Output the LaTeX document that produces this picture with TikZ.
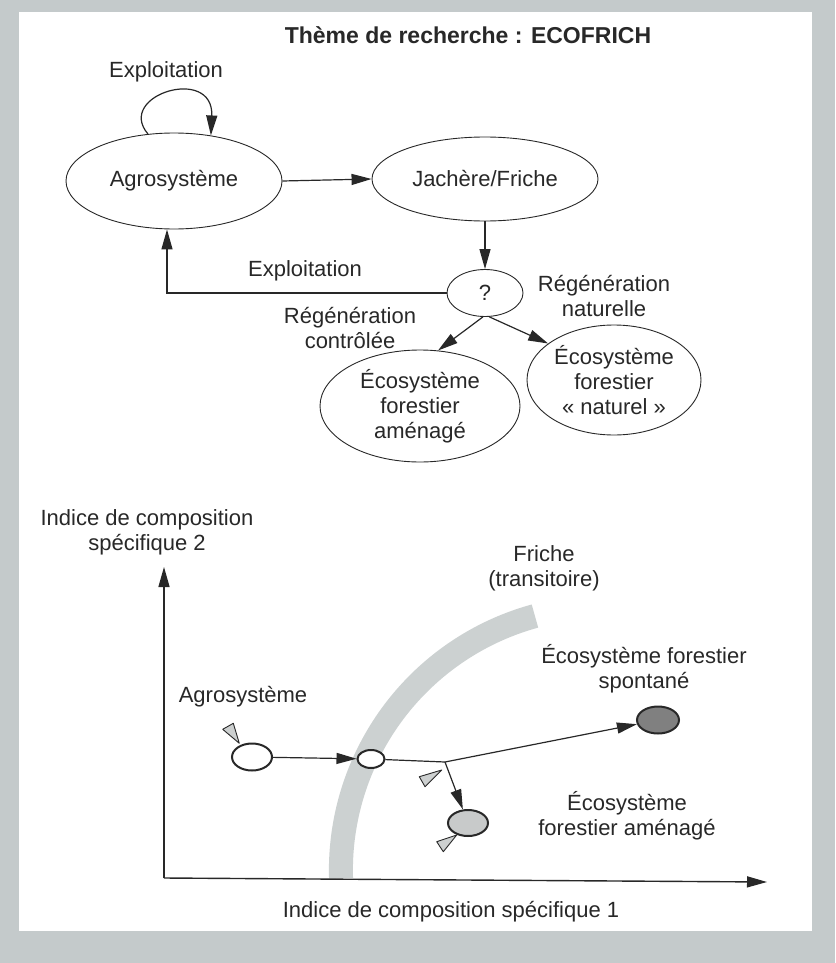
\documentclass[tikz,border=0pt]{standalone}
\usepackage{fontspec}
\setmainfont{Liberation Sans}
\usetikzlibrary{arrows.meta,shapes.geometric}
\definecolor{bgpage}{RGB}{196,202,203}
\definecolor{bandgrey}{RGB}{204,209,209}
\definecolor{ink}{RGB}{40,40,40}
\definecolor{darkfill}{RGB}{128,128,128}
\definecolor{lightfill}{RGB}{200,202,202}
\definecolor{trifill}{RGB}{205,208,208}
\begin{document}
\begin{tikzpicture}[x=1pt,y=-1pt,
  every node/.style={font=\fontsize{22}{25}\selectfont, text=ink},
  bigell/.style={ellipse, draw=ink, line width=0.9pt, inner sep=0pt, align=center},
  lbl/.style={align=center, inner sep=0pt},
  conn/.style={draw=ink, line width=1.2pt, -{Triangle[length=20pt,width=11pt]}},
  plain/.style={draw=ink, line width=1.2pt},
  smallell/.style={ellipse, draw=ink, line width=2pt, inner sep=0pt},
  tri/.style={draw=ink, line width=0.9pt, fill=trifill, line join=round},
]
\useasboundingbox (0,0) rectangle (835,963);
\fill[bgpage] (0,0) rectangle (835,963);
\fill[white] (19,12) rectangle (812,931);

% ---------- top diagram ----------
\node[lbl, font=\fontsize{23}{26}\selectfont\bfseries] (title) at (468,35) {Thème de recherche : ECOFRICH};
\node[lbl] (lexp1) at (166,72) {Exploitation};
\node[bigell, minimum width=216pt, minimum height=96pt] (agro) at (174,181) {Agrosystème};
\node[bigell, minimum width=226pt, minimum height=84pt] (jach) at (485,179) {Jachère/Friche};
\node[bigell, minimum width=76pt, minimum height=47pt] (q) at (485,293) {?};
\node[bigell, minimum width=200pt, minimum height=112pt] (amen) at (420,406) {Écosystème\\forestier\\aménagé};
\node[bigell, minimum width=174pt, minimum height=110pt] (natu) at (614,380) {Écosystème\\forestier\\« naturel »};

\node[lbl] (lexp2) at (305,271) {Exploitation};
\node[lbl] (lrn) at (604,296) {Régénération\\naturelle};
\node[lbl] (lrc) at (350,328) {Régénération\\contrôlée};

\draw[conn] (agro.119) .. controls (115,95) and (214,65) .. (agro.51);
\draw[conn] (agro.east) -- (jach.west);
\draw[conn] (jach.south) -- (q.north);
\draw[conn] (q.west) -| ([xshift=-7pt]agro.south);
\draw[conn] (q.265) -- (amen.72);
\draw[conn] (q.280) -- (natu.151);

% ---------- bottom diagram ----------
\draw[bandgrey, line width=24pt] plot[domain=178.3:254.7, samples=80, smooth]
  ({604.5+263.6*cos(\x)},{870.3+263.6*sin(\x)});

\coordinate (O) at (164,878);
\coordinate (ytip) at (164,567);
\coordinate (xtip) at (767,882);
\draw[conn, line width=1.4pt] (O) -- (ytip);
\draw[conn, line width=1.4pt] (O) -- (xtip);

\node[lbl] (yl) at (147,532) {Indice de composition\\spécifique 2};
\node[lbl] (xl) at (451,912) {Indice de composition spécifique 1};
\node[lbl] (fl) at (544,568) {Friche\\(transitoire)};
\node[lbl] (lagro) at (243,697) {Agrosystème};
\node[lbl] (lspo) at (644,669) {Écosystème forestier\\spontané};
\node[lbl] (lame) at (627,816) {Écosystème\\forestier aménagé};

\node[smallell, minimum width=40pt, minimum height=27pt, fill=white] (sagro) at (252,757) {};
\node[smallell, minimum width=27pt, minimum height=18pt, fill=white] (sfri) at (371,759) {};
\node[smallell, minimum width=42pt, minimum height=27pt, fill=darkfill] (sspo) at (658,720) {};
\node[smallell, minimum width=40pt, minimum height=26pt, fill=lightfill] (same) at (468,823) {};
\coordinate (branch) at (445,762);

\draw[conn] (sagro) -- (sfri);
\draw[plain] (sfri) -- (branch);
\draw[conn] (branch) -- (sspo);
\draw[conn] (branch) -- (same);

\draw[tri] (222.7,729.3) -- (233.3,723.3) -- (239.3,743.3) -- cycle;
\draw[tri] (419.3,776.7) -- (441.7,770) -- (425,786.7) -- cycle;
\draw[tri] (436.7,841.7) -- (456.7,835) -- (443.3,851.7) -- cycle;
\end{tikzpicture}
\end{document}
